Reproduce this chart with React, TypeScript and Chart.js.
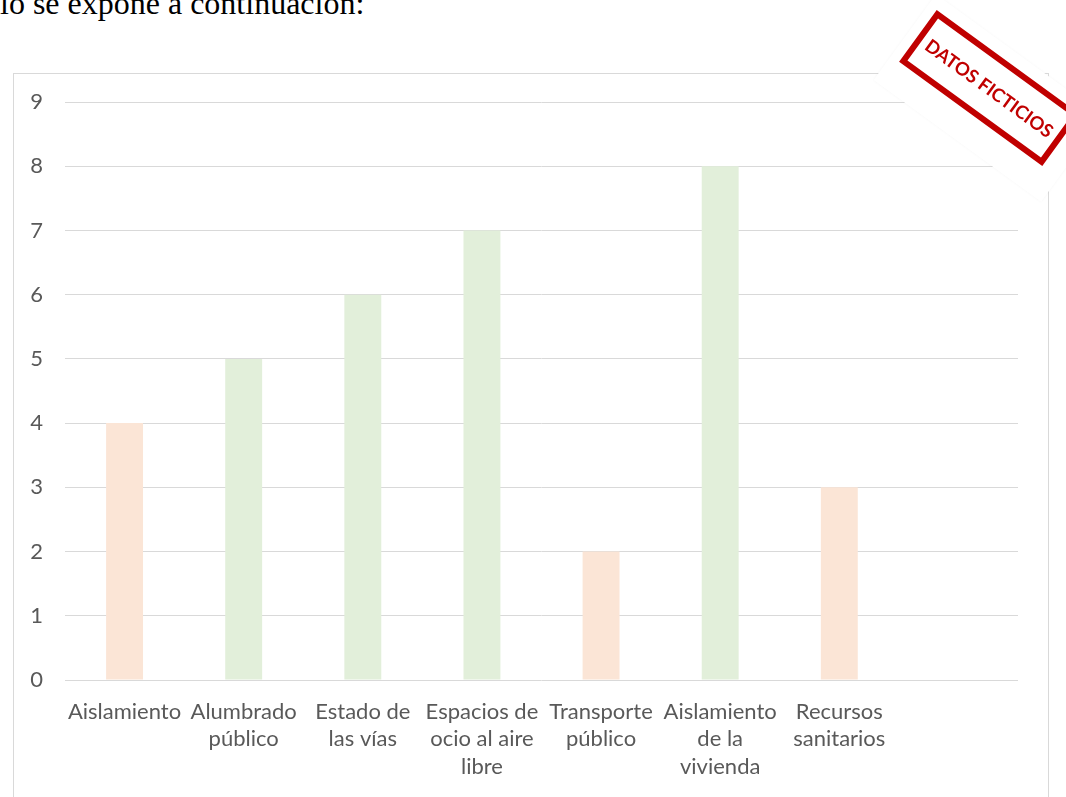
import React, { useEffect, useRef } from "react";
import { Chart, registerables } from "chart.js";

Chart.register(...registerables);

const categories: string[][] = [
  ["Aislamiento"],
  ["Alumbrado", "público"],
  ["Estado de", "las vías"],
  ["Espacios de", "ocio al aire", "libre"],
  ["Transporte", "público"],
  ["Aislamiento", "de la", "vivienda"],
  ["Recursos", "sanitarios"],
  [""],
];
const values: (number | null)[] = [4, 5, 6, 7, 2, 8, 3, null];
const barColors: string[] = [
  "#fbe5d6",
  "#e2efda",
  "#e2efda",
  "#e2efda",
  "#fbe5d6",
  "#e2efda",
  "#fbe5d6",
  "#fbe5d6",
];
const yMin = 0;
const yMax = 9;
const yStep = 1;
const introText = "lo se expone a continuación:";
const stampText = "DATOS FICTICIOS";

export default function App() {
  const canvasRef = useRef<HTMLCanvasElement | null>(null);

  useEffect(() => {
    const canvas = canvasRef.current;
    if (!canvas) return;
    const chart = new Chart(canvas, {
      type: "bar",
      data: {
        labels: categories,
        datasets: [
          {
            data: values,
            backgroundColor: barColors,
            borderWidth: 0,
            barPercentage: 0.31,
            categoryPercentage: 1,
          },
        ],
      },
      options: {
        responsive: false,
        animation: false,
        layout: { padding: { left: 0, top: 28, right: 30, bottom: 0 } },
        plugins: {
          legend: { display: false },
          tooltip: { enabled: false },
        },
        scales: {
          x: {
            grid: { display: false, drawTicks: false },
            border: { display: false },
            ticks: {
              autoSkip: false,
              maxRotation: 0,
              minRotation: 0,
              padding: 18,
              color: "#595959",
              font: { family: "Lato", size: 22, lineHeight: 1.25 },
            },
            afterFit: (scale: any) => {
              scale.height = 132;
            },
          },
          y: {
            min: yMin,
            max: yMax,
            ticks: {
              stepSize: yStep,
              padding: 22,
              color: "#595959",
              font: { family: "Lato", size: 22 },
            },
            grid: { color: "#d9d9d9", lineWidth: 1, drawTicks: false },
            border: { display: false },
            afterFit: (scale: any) => {
              scale.width = 51;
              scale.paddingTop = 0;
              scale.paddingBottom = 0;
            },
          },
        },
      },
    });
    return () => chart.destroy();
  }, []);

  // stamp geometry
  const angle = 36;
  const boxCx = 989;
  const boxCy = 88;
  const boxW = 177;
  const boxH = 64;
  const paperW = 207;
  const paperH = 106;
  const paperCx = 988.6;
  const paperCy = 97.9;

  return (
    <div
      style={{
        position: "absolute",
        left: 0,
        top: 0,
        width: 1066,
        height: 797,
        overflow: "hidden",
        background: "#ffffff",
      }}
    >
      <div
        style={{
          position: "absolute",
          left: 0,
          top: -15,
          fontFamily: "'Liberation Serif', 'Times New Roman', serif",
          fontSize: 32,
          color: "#000",
          whiteSpace: "nowrap",
        }}
      >
        {introText}
      </div>
      <div
        style={{
          position: "absolute",
          left: 13,
          top: 73,
          width: 1036,
          height: 740,
          boxSizing: "border-box",
          border: "1px solid #d9d9d9",
          background: "#ffffff",
        }}
      >
        <canvas
          ref={canvasRef}
          width={1034}
          height={738}
          style={{ display: "block", width: 1034, height: 738 }}
        />
      </div>
      <div
        style={{
          position: "absolute",
          left: paperCx - paperW / 2,
          top: paperCy - paperH / 2,
          width: paperW,
          height: paperH,
          background: "#ffffff",
          transform: `rotate(${angle}deg)`,
          boxShadow: "0 0 3px rgba(0,0,0,0.04)",
        }}
      />
      <div
        style={{
          position: "absolute",
          left: boxCx - boxW / 2,
          top: boxCy - boxH / 2,
          width: boxW,
          height: boxH,
          boxSizing: "border-box",
          border: "6px solid #c00000",
          transform: `rotate(${angle}deg)`,
          display: "flex",
          alignItems: "center",
          justifyContent: "center",
          color: "#c00000",
          fontFamily: "Lato, 'Open Sans', sans-serif",
          fontWeight: 700,
          fontSize: 18.5,
          whiteSpace: "nowrap",
        }}
      >
        {stampText}
      </div>
    </div>
  );
}
